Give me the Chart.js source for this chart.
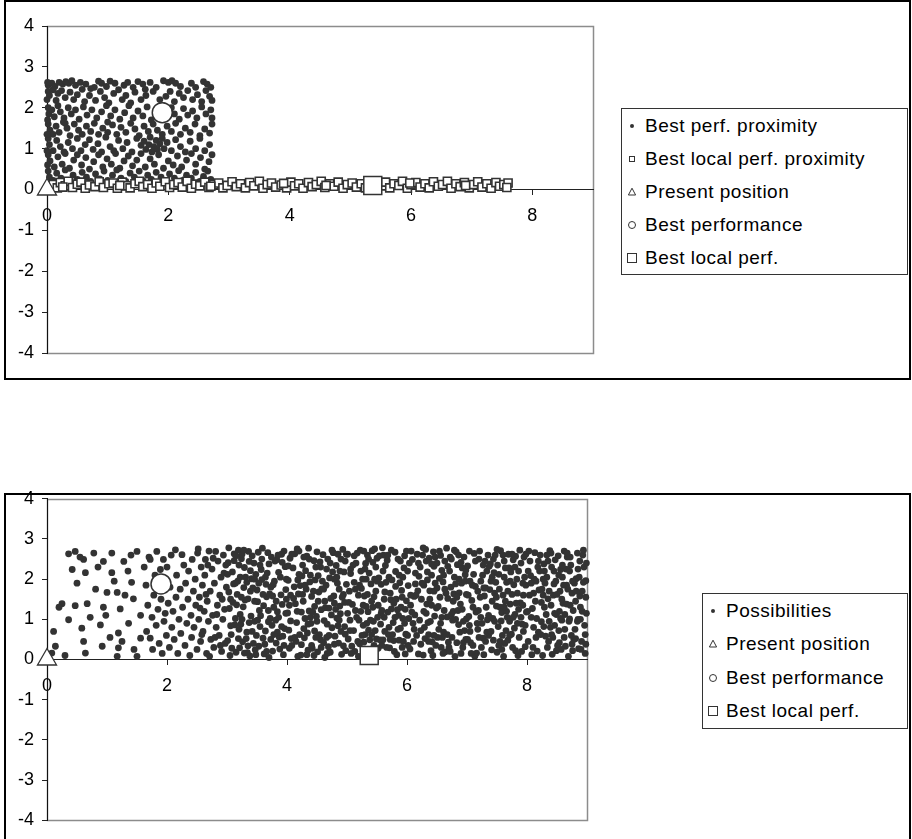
<!DOCTYPE html>
<html>
<head>
<meta charset="utf-8">
<script src="https://cdn.jsdelivr.net/npm/chart.js@4.4.0/dist/chart.umd.min.js"></script>
<style>
  body { margin: 0; width: 912px; height: 839px; overflow: hidden; position: relative; background: #fff;
         font-family: "Liberation Sans", Arial, sans-serif; }
  .frame { position: absolute; border: 2px solid #000; box-sizing: border-box; }
  canvas { position: absolute; left: 0; }
  .legend { position: absolute; border: 1px solid #333; background: #fff; box-sizing: border-box;
            font-size: 19px; letter-spacing: 0.5px; color: #000; }
  .legend .item { display: flex; align-items: center; white-space: nowrap; padding-left: 3px; }
  .legend svg { width: 14px; height: 14px; flex: none; margin-right: 6px; }
</style>
</head>
<body>
<div class="frame" style="left:4px;top:0;width:907px;height:380px"></div>
<div class="frame" style="left:4px;top:493px;width:907px;height:400px"></div>
<canvas id="topChart" width="912" height="380" style="top:0"></canvas>
<canvas id="bottomChart" width="912" height="359" style="top:480px"></canvas>
<div class="legend" id="topLegend" style="left:621px;top:108px;width:287px"></div>
<div class="legend" id="bottomLegend" style="left:702px;top:593px;width:206px"></div>
<script>
// axis ticks
const xTicks = [0, 2, 4, 6, 8];
const yTicks = [-4, -3, -2, -1, 0, 1, 2, 3, 4];

// single markers
const presentPosition = [[0, 0]];
const bestPerformance = [[1.9, 1.88]];
const bestLocalPerf = [[5.37, 0.1]];

// top chart: points near the best performance
const bestPerfProximity = [
  [0.02,2.55],[0.08,2.6],[0.13,2.52],[0.2,2.62],[0.26,2.58],[0.31,2.64],[0.36,2.6],[0.41,2.66],[0.47,2.55],[0.55,2.62],
  [0.64,2.58],[0.78,2.5],[0.85,2.65],[0.9,2.6],[0.98,2.52],[1.04,2.65],[1.12,2.6],[1.27,2.55],[1.33,2.62],[1.42,2.5],
  [1.5,2.64],[1.58,2.58],[1.7,2.62],[1.8,2.5],[1.92,2.66],[2.0,2.62],[2.06,2.66],[2.12,2.6],[2.2,2.52],[2.38,2.6],
  [2.45,2.5],[2.58,2.64],[2.64,2.58],[2.7,2.5],[1.62,2.45],[0.72,2.47],
  [0.02,2.4],[0.04,2.3],[0.1,2.44],[0.18,2.35],[0.24,2.42],[0.3,2.25],[0.38,2.38],[0.44,2.2],[0.5,2.32],[0.58,2.45],
  [0.62,2.15],[0.7,2.3],[0.8,2.18],[0.88,2.4],[0.95,2.25],[1.02,2.12],[1.1,2.35],[1.18,2.44],[1.24,2.2],[1.3,2.3],
  [1.38,2.12],[1.45,2.38],[1.55,2.2],[1.63,2.3],[1.75,2.4],[1.86,2.2],[1.96,2.28],[2.03,2.4],[2.1,2.15],[2.18,2.35],
  [2.25,2.25],[2.32,2.42],[2.4,2.2],[2.48,2.32],[2.55,2.15],[2.62,2.42],[2.68,2.28],[2.72,2.18],[0.15,2.18],[1.92,2.05],
  [0.02,2.0],[0.03,1.85],[0.08,1.95],[0.12,1.78],[0.18,2.05],[0.22,1.9],[0.28,1.75],[0.35,2.0],[0.4,1.85],[0.47,1.95],
  [0.53,1.72],[0.6,2.02],[0.66,1.82],[0.74,1.95],[0.82,1.75],[0.9,1.9],[0.98,2.05],[1.05,1.8],[1.12,1.95],[1.2,1.72],
  [1.28,1.88],[1.35,2.05],[1.42,1.75],[1.5,1.92],[1.58,1.8],[1.65,2.02],[1.72,1.7],[2.1,1.85],[2.18,1.72],[2.25,1.98],
  [2.32,1.82],[2.4,1.92],[2.47,1.75],[2.55,2.02],[2.62,1.85],[2.7,1.95],[2.72,1.75],[0.3,1.62],[1.0,1.65],[2.05,2.0],
  [0.02,1.6],[0.05,1.45],[0.1,1.35],[0.15,1.55],[0.2,1.4],[0.27,1.65],[0.33,1.5],[0.38,1.32],[0.45,1.6],[0.52,1.45],
  [0.58,1.35],[0.65,1.55],[0.72,1.42],[0.78,1.62],[0.85,1.35],[0.92,1.5],[1.0,1.4],[1.08,1.58],[1.15,1.35],[1.22,1.52],
  [1.3,1.4],[1.38,1.62],[1.45,1.48],[1.52,1.32],[1.6,1.55],[1.67,1.42],[1.75,1.6],[1.82,1.45],[1.9,1.35],[1.98,1.55],
  [2.05,1.42],[2.12,1.62],[2.2,1.35],[2.28,1.5],[2.36,1.4],[2.44,1.6],[2.52,1.32],[2.6,1.48],[2.68,1.38],[2.72,1.6],
  [0.02,1.25],[0.04,1.1],[0.1,0.95],[0.16,1.2],[0.22,1.05],[0.28,0.92],[0.35,1.15],[0.42,1.0],[0.5,1.25],[0.56,0.95],
  [0.63,1.1],[0.7,1.22],[0.76,0.98],[0.84,1.12],[0.9,0.92],[0.97,1.28],[1.04,1.05],[1.1,0.95],[1.18,1.2],[1.25,1.0],
  [1.32,1.15],[1.4,0.92],[1.48,1.25],[1.55,1.08],[1.6,1.18],[1.63,0.98],[1.68,1.1],[1.7,1.28],[1.73,0.92],[1.76,1.05],
  [1.8,1.2],[1.82,0.98],[1.86,1.12],[1.9,1.25],[1.93,1.0],[1.98,1.15],[2.05,0.95],[2.12,1.22],[2.2,1.05],[2.28,0.92],
  [2.36,1.18],[2.45,1.0],[2.52,1.25],[2.6,0.95],[2.68,1.1],
  [0.02,0.85],[0.05,0.7],[0.12,0.55],[0.18,0.8],[0.25,0.62],[0.3,0.88],[0.37,0.52],[0.44,0.72],[0.5,0.85],[0.57,0.6],
  [0.64,0.78],[0.7,0.5],[0.77,0.68],[0.85,0.85],[0.92,0.55],[0.99,0.75],[1.06,0.62],[1.13,0.88],[1.2,0.52],[1.27,0.7],
  [1.34,0.82],[1.41,0.58],[1.48,0.72],[1.55,0.88],[1.62,0.55],[1.7,0.75],[1.77,0.62],[1.84,0.85],[1.92,0.52],[2.0,0.7],
  [2.08,0.6],[2.15,0.82],[2.22,0.55],[2.3,0.72],[2.38,0.88],[2.45,0.62],[2.53,0.78],[2.6,0.5],[2.67,0.68],[2.72,0.85],
  [0.02,0.45],[0.04,0.3],[0.1,0.22],[0.16,0.4],[0.23,0.28],[0.3,0.48],[0.36,0.2],[0.43,0.35],[0.5,0.25],[0.58,0.42],
  [0.65,0.3],[0.72,0.2],[0.8,0.38],[0.87,0.26],[0.94,0.45],[1.0,0.22],[1.08,0.35],[1.15,0.48],[1.22,0.28],[1.3,0.2],
  [1.37,0.4],[1.44,0.3],[1.52,0.45],[1.58,0.22],[1.66,0.35],[1.72,0.25],[1.8,0.42],[1.88,0.3],[1.95,0.2],[2.02,0.38],
  [2.1,0.28],[2.17,0.46],[2.24,0.22],[2.3,0.35],[2.38,0.28],[2.45,0.42],[2.52,0.2],[2.58,0.32],[2.65,0.45],[2.7,0.25],
  [0.0,2.2],[0.01,1.7],[0.0,1.35],[0.01,0.6],[0.0,0.95],[0.01,2.62]
];

// top chart: points near the best local performance (along the x axis)
const bestLocalProximity = [
  [0.1,0.12],[0.17,0.04],[0.22,0.17],[0.3,0.09],[0.35,0.2],[0.42,0.05],[0.5,0.13],[0.56,0.18],[0.63,0.03],[0.7,0.11],
  [0.79,0.07],[0.86,0.19],[0.93,0.05],[1.02,0.14],[1.09,0.16],[1.16,0.03],[1.24,0.18],[1.31,0.09],[1.37,0.04],[1.45,0.14],
  [1.52,0.2],[1.58,0.07],[1.66,0.12],[1.73,0.03],[1.8,0.16],[1.86,0.08],[1.95,0.19],[2.02,0.05],[2.09,0.12],[2.16,0.17],
  [2.23,0.06],[2.31,0.2],[2.38,0.03],[2.45,0.13],[2.52,0.09],[2.6,0.18],[2.67,0.05],[2.75,0.12],[2.83,0.16],[2.9,0.04],
  [2.97,0.1],[3.05,0.19],[3.12,0.07],[3.19,0.14],[3.27,0.04],[3.34,0.17],[3.41,0.09],[3.5,0.2],[3.56,0.03],[3.63,0.12],
  [3.7,0.16],[3.77,0.06],[3.86,0.11],[3.95,0.04],[4.02,0.18],[4.08,0.09],[4.15,0.14],[4.22,0.03],[4.31,0.17],[4.37,0.07],
  [4.44,0.12],[4.52,0.2],[4.58,0.05],[4.66,0.14],[4.73,0.08],[4.8,0.18],[4.88,0.03],[4.95,0.12],[5.03,0.16],[5.1,0.06],
  [5.18,0.14],[5.25,0.04],[5.52,0.09],[5.58,0.18],[5.65,0.04],[5.72,0.14],[5.8,0.1],[5.86,0.2],[5.94,0.03],[6.0,0.12],
  [6.08,0.17],[6.15,0.06],[6.23,0.14],[6.3,0.04],[6.37,0.19],[6.45,0.08],[6.52,0.12],[6.6,0.2],[6.66,0.03],[6.74,0.14],
  [6.81,0.07],[6.88,0.17],[6.96,0.04],[7.03,0.12],[7.1,0.19],[7.17,0.06],[7.25,0.14],[7.32,0.03],[7.4,0.17],[7.46,0.08],
  [7.53,0.12],[7.6,0.16],[7.58,0.05],[0.26,0.06],[1.2,0.1],[2.7,0.08],[3.9,0.15],[4.6,0.1],[5.98,0.16],[6.9,0.1]
];

// bottom chart: all possibilities
const possibilities = [
  [0.08,0.16],[0.14,0.33],[0.11,0.7],[0.25,1.39],[0.36,0.99],[0.36,2.63],[0.47,2.69],[0.42,2.24],[0.47,1.34],[0.61,2.49],
  [0.64,2.16],[0.67,1.39],[0.58,0.78],[0.61,0.45],[0.64,0.16],[0.78,2.65],[0.81,1.75],[0.89,0.86],[0.92,0.33],[0.94,2.44],
  [0.94,1.3],[1.0,1.67],[1.08,2.65],[1.08,2.16],[1.17,1.67],[1.19,0.66],[1.19,0.29],[1.17,0.08],[1.22,1.26],[1.28,2.44],
  [1.36,0.9],[1.41,1.92],[1.44,1.51],[1.5,2.69],[1.5,0.08],[1.56,0.53],[1.56,1.1],
  [0.3,0.1],[0.5,1.9],[0.72,1.05],[0.85,2.3],[1.05,0.55],[1.12,1.95],[1.3,1.6],[1.35,2.2],[1.25,0.45],[1.45,0.25],
  [0.2,1.3],[0.55,2.55],[0.98,1.1],[1.4,2.6],
  [1.62,2.3],[1.85,1.25],[1.66,0.7],[2.02,1.4],[1.7,2.55],[1.94,2.49],[1.72,0.53],[2.25,2.61],[1.75,1.05],[1.76,0.25],
  [2.12,0.5],[1.78,1.6],[1.8,2.1],[2.44,1.7],[1.82,0.85],[1.83,2.69],[1.68,1.35],[1.87,0.4],[1.89,2.24],[2.35,1.5],
  [1.92,0.15],[1.72,2.49],[1.95,0.95],[1.97,1.15],[2.3,0.35],[1.99,0.6],[2.0,2.3],[1.65,1.85],[2.04,0.3],[2.05,1.8],
  [2.07,2.6],[2.08,0.8],[2.1,1.2],[2.14,2.73],[2.15,1.55],[2.16,2.1],[2.18,0.15],[2.2,1.0],[2.22,1.75],[2.23,0.65],
  [2.26,1.3],[2.28,2.35],[2.31,1.9],[2.33,0.9],[1.9,1.5],[2.36,2.2],[2.38,0.1],[2.4,1.1],[2.41,0.55],[2.42,2.49],
  [2.45,0.8],[2.47,2.0],[2.48,1.35],[2.5,0.25],[2.51,2.65],[2.53,1.0],[2.54,1.55],[2.56,0.45],[2.57,2.3],[2.59,1.85],
  [2.6,0.7],[2.62,1.2],[2.63,2.1],[2.64,2.49],[2.66,0.15],[2.67,1.45],[2.69,0.95],[2.7,2.7],[2.72,1.7],[2.73,0.5],
  [2.75,2.25],[2.76,1.1],[2.78,0.3],[2.79,1.9],[2.81,2.69],[2.82,0.8],[2.84,1.35],[2.85,2.45],[2.87,0.6],[2.88,1.6],
  [2.9,2.05],[2.91,0.2],[2.93,1.0],[2.94,2.6],[2.96,1.25],[2.97,0.4],[2.99,1.8],[2.98,2.35],
  [2.52,2.75],[2.58,0.62],[2.65,1.62],[2.71,0.08],[2.77,2.52],[2.83,1.12],[2.89,0.35],[2.95,2.15],[2.55,1.28],[2.68,2.35],
  [2.8,0.55],[2.92,1.5],
  [3.02,2.41],[3.07,0.62],[3.11,1.88],[3.15,0.18],[3.19,2.72],[3.22,1.12],[3.26,0.44],[3.31,2.05],[3.35,1.51],[3.38,0.09],
  [3.42,2.58],[3.46,0.95],[3.5,1.73],[3.53,0.33],[3.57,2.24],[3.61,1.34],[3.64,0.71],[3.68,2.66],[3.72,1.02],[3.76,0.21],
  [3.79,1.95],[3.83,2.48],[3.87,0.56],[3.9,1.61],[3.94,0.12],[3.97,2.31],[3.04,1.27],[3.09,2.18],[3.13,0.86],[3.17,1.62],
  [3.21,0.29],[3.24,2.51],[3.28,1.79],[3.33,0.68],[3.36,2.69],[3.4,1.08],[3.44,0.4],[3.48,2.12],[3.51,1.44],[3.55,0.82],
  [3.59,2.77],[3.62,0.14],[3.66,1.56],[3.7,2.38],[3.73,0.5],[3.77,1.86],[3.81,0.98],[3.85,2.6],[3.88,0.26],[3.92,1.37],
  [3.96,0.77],[3.99,2.0],[3.01,0.47],[3.06,1.5],[3.12,2.63],[3.18,1.95],[3.23,0.88],[3.29,2.29],[3.34,0.17],[3.39,1.7],
  [3.45,2.4],[3.49,0.6],[3.54,1.22],[3.58,1.99],[3.63,0.38],[3.67,2.15],[3.71,1.63],[3.75,0.85],[3.8,2.45],[3.84,1.19],
  [3.89,2.05],[3.93,0.58],[3.98,1.74],[3.03,2.78],[3.14,1.02],[3.2,2.35],[3.27,1.31],[3.32,0.52],[3.41,2.01],[3.47,0.24],
  [3.03,1.68],[3.08,0.28],[3.12,2.46],[3.16,1.36],[3.2,0.75],[3.25,2.62],[3.3,1.48],[3.35,0.34],[3.39,2.21],[3.43,1.78],
  [3.48,0.12],[3.52,2.67],[3.56,1.09],[3.6,0.53],[3.65,1.87],[3.69,0.94],[3.74,2.55],[3.78,1.3],[3.82,0.41],[3.86,2.17],
  [3.91,0.82],[3.95,2.7],[3.99,1.5],[3.05,0.1],[3.14,1.9],[3.22,2.05],[3.37,0.92],[3.46,1.45],[3.58,2.5],[3.66,0.2],
  [3.76,1.58],[3.84,0.68],[3.92,2.42],[3.28,2.72],[3.53,1.9],
  [3.01,2.12],[3.06,0.84],[3.1,1.42],[3.15,2.58],[3.19,0.52],[3.24,1.55],[3.29,0.16],[3.33,1.92],[3.37,2.44],[3.42,0.7],
  [3.46,2.0],[3.51,0.98],[3.55,2.35],[3.6,1.62],[3.64,2.05],[3.69,1.22],[3.73,1.8],[3.78,0.62],[3.82,1.45],[3.86,1.05],
  [3.91,2.62],[3.95,0.35],[3.98,1.15],[3.25,1.0],[3.7,0.05],
  [4.01,1.16],[4.05,2.52],[4.08,0.35],[4.12,1.81],[4.16,0.92],[4.2,2.7],[4.23,0.11],[4.27,1.45],[4.31,2.21],[4.34,0.66],
  [4.38,1.93],[4.42,0.28],[4.45,2.46],[4.49,1.07],[4.53,1.68],[4.56,0.49],[4.6,2.61],[4.64,1.29],[4.67,0.15],[4.71,2.03],
  [4.75,0.79],[4.78,1.58],[4.82,2.34],[4.86,0.41],[4.89,1.14],[4.93,2.74],[4.97,0.63],[4.99,1.87],[4.03,0.73],[4.1,2.28],
  [4.14,1.39],[4.18,0.08],[4.25,2.08],[4.29,0.54],[4.33,2.57],[4.37,1.21],[4.4,0.9],[4.47,1.98],[4.51,0.19],[4.55,2.43],
  [4.58,1.76],[4.62,0.97],[4.66,2.25],[4.69,0.32],[4.73,1.52],[4.77,2.66],[4.8,0.58],[4.84,1.9],[4.88,1.33],[4.91,0.13],
  [4.95,2.18],[4.02,1.97],[4.07,0.52],[4.13,2.63],[4.19,1.63],[4.24,0.37],[4.3,1.02],[4.36,2.77],[4.41,1.57],[4.46,0.71],
  [4.52,2.09],[4.57,1.24],[4.63,0.05],[4.68,2.5],[4.74,1.11],[4.79,2.0],[4.85,0.84],[4.9,2.5],[4.96,1.42],[4.06,1.6],
  [4.22,1.84],[4.35,0.23],[4.44,1.7],[4.61,0.42],[4.72,2.4],[4.83,1.03],[4.94,0.34],[4.28,2.55],[4.5,0.95],[4.87,1.75],
  [4.02,2.33],[4.06,0.96],[4.11,1.52],[4.15,0.45],[4.2,2.12],[4.24,1.18],[4.28,0.77],[4.32,1.75],[4.37,2.5],[4.41,0.35],
  [4.46,1.32],[4.5,2.68],[4.54,0.62],[4.59,1.95],[4.63,1.45],[4.67,0.88],[4.72,0.18],[4.76,2.18],[4.81,1.25],[4.85,2.62],
  [4.9,0.7],[4.94,1.62],[4.98,0.22],[4.04,0.28],[4.17,2.75],[4.26,1.62],[4.39,1.05],[4.48,0.55],[4.56,2.3],[4.65,1.85],
  [4.7,0.6],[4.79,1.4],[4.88,2.2],[4.97,2.45],[4.33,0.12],
  [4.04,1.35],[4.08,2.62],[4.13,0.55],[4.17,1.2],[4.21,0.62],[4.26,2.35],[4.3,1.85],[4.35,0.88],[4.39,2.1],[4.43,1.18],
  [4.48,2.3],[4.52,1.45],[4.57,0.3],[4.61,1.75],[4.66,0.55],[4.7,1.28],[4.75,2.72],[4.79,0.38],[4.83,2.05],[4.87,0.98],
  [4.92,1.55],[4.96,0.82],[4.99,2.62],[4.45,0.1],[4.18,1.98],
  [5.02,0.51],[5.06,2.14],[5.09,1.37],[5.13,0.2],[5.17,2.65],[5.2,0.98],[5.24,1.77],[5.28,0.43],[5.31,2.39],[5.35,1.19],
  [5.38,0.49],[5.42,2.71],[5.45,1.56],[5.49,0.51],[5.53,2.03],[5.56,0.88],[5.6,0.49],[5.63,1.68],[5.67,2.47],[5.71,0.29],
  [5.74,1.26],[5.78,0.47],[5.81,2.19],[5.85,0.75],[5.88,1.91],[5.92,0.3],[5.96,2.58],[5.99,1.46],[5.04,1.7],[5.11,0.72],
  [5.15,2.4],[5.19,1.6],[5.26,2.0],[5.3,0.62],[5.34,2.6],[5.4,1.88],[5.44,0.95],[5.48,2.3],[5.52,1.35],[5.55,0.49],
  [5.59,2.78],[5.62,1.05],[5.66,0.3],[5.7,2.05],[5.73,1.49],[5.77,0.92],[5.8,2.67],[5.84,1.24],[5.87,0.48],[5.91,1.72],
  [5.95,2.28],[5.98,0.63],[5.01,2.62],[5.08,0.33],[5.14,1.22],[5.22,2.72],[5.27,1.35],[5.33,0.9],[5.37,2.15],[5.43,1.3],
  [5.47,0.72],[5.5,2.52],[5.57,1.87],[5.64,2.34],[5.69,0.62],[5.75,1.98],[5.82,1.5],[5.89,2.45],[5.93,1.02],[5.97,0.14],
  [5.05,0.98],[5.12,1.92],[5.21,0.39],[5.29,1.58],[5.36,0.73],[5.46,2.0],[5.58,0.35],[5.68,1.18],[5.79,0.2],[5.9,1.3],
  [5.03,1.42],[5.07,0.15],[5.12,2.58],[5.16,1.05],[5.21,1.85],[5.25,0.6],[5.3,2.25],[5.34,1.62],[5.39,0.98],[5.43,2.42],
  [5.48,1.7],[5.52,0.28],[5.57,1.15],[5.61,2.6],[5.65,1.92],[5.7,0.8],[5.74,2.72],[5.78,1.4],[5.83,0.12],[5.87,2.1],
  [5.92,1.55],[5.96,0.9],[5.99,2.7],[5.06,2.25],[5.18,0.45],[5.23,1.2],[5.32,2.0],[5.41,0.62],[5.51,1.05],[5.6,2.2],
  [5.72,0.5],[5.81,1.82],[5.94,0.45],[5.46,2.75],[5.86,1.1],
  [5.01,1.15],[5.05,0.72],[5.1,2.35],[5.14,1.75],[5.19,0.08],[5.23,2.2],[5.27,0.85],[5.32,1.32],[5.36,2.5],[5.41,1.45],
  [5.45,0.35],[5.5,1.95],[5.54,2.58],[5.58,1.22],[5.63,0.7],[5.68,2.6],[5.72,1.65],[5.76,0.62],[5.8,1.05],[5.85,2.5],
  [5.89,0.78],[5.93,2.05],[5.97,1.25],[5.62,1.5],[5.28,2.7],
  [6.02,1.84],[6.05,0.26],[6.09,2.49],[6.13,1.11],[6.16,0.6],[6.2,2.07],[6.24,1.5],[6.27,0.11],[6.31,2.74],[6.35,0.92],
  [6.38,1.71],[6.42,0.44],[6.45,2.32],[6.49,1.28],[6.53,0.75],[6.56,2.59],[6.6,1.93],[6.64,0.19],[6.67,1.06],[6.71,2.2],
  [6.75,0.55],[6.78,1.63],[6.82,2.68],[6.86,0.87],[6.89,1.38],[6.93,0.3],[6.97,2.11],[6.99,1.01],[6.03,1.02],[6.07,2.7],
  [6.11,0.45],[6.18,1.71],[6.22,2.3],[6.29,0.8],[6.33,1.38],[6.37,2.52],[6.4,0.22],[6.47,1.9],[6.51,0.55],[6.55,1.55],
  [6.58,2.22],[6.62,1.22],[6.66,2.77],[6.69,0.43],[6.73,1.8],[6.77,1.2],[6.8,0.08],[6.84,2.36],[6.88,0.68],[6.91,1.9],
  [6.95,2.55],[6.98,0.5],[6.06,1.35],[6.14,2.15],[6.19,0.14],[6.26,2.6],[6.32,1.15],[6.39,0.95],[6.44,2.68],[6.48,0.35],
  [6.54,2.02],[6.61,0.68],[6.68,1.52],[6.74,2.5],[6.81,1.0],[6.87,1.66],[6.94,0.95],[6.01,0.6],[6.12,1.57],[6.23,0.38],
  [6.34,1.98],[6.46,1.08],[6.57,0.3],[6.63,2.45],[6.72,0.2],[6.83,1.55],[6.92,2.28],[6.28,1.85],[6.5,2.4],[6.79,2.05],
  [6.04,2.4],[6.08,1.18],[6.12,0.75],[6.17,2.62],[6.21,0.98],[6.25,1.9],[6.3,0.52],[6.34,2.18],[6.38,1.5],[6.43,0.1],
  [6.47,2.55],[6.52,1.32],[6.56,0.9],[6.61,2.1],[6.65,1.65],[6.7,0.3],[6.74,1.12],[6.79,2.72],[6.83,0.42],[6.87,2.0],
  [6.92,1.25],[6.96,0.72],[6.99,1.62],[6.02,0.35],[6.15,1.6],[6.27,2.78],[6.36,0.62],[6.45,1.7],[6.59,0.55],[6.68,2.32],
  [6.77,1.45],[6.86,2.6],[6.97,1.95],[6.41,2.38],[6.9,0.15],
  [6.01,2.2],[6.06,1.6],[6.1,0.9],[6.14,1.88],[6.19,2.4],[6.23,0.72],[6.28,1.2],[6.32,2.45],[6.36,0.45],[6.41,1.35],
  [6.45,0.6],[6.5,1.78],[6.54,2.7],[6.58,1.05],[6.63,1.75],[6.67,0.62],[6.72,2.55],[6.76,0.98],[6.81,1.88],[6.85,1.22],
  [6.9,2.42],[6.94,0.42],[6.98,2.22],[6.41,2.1],[6.6,0.15],
  [7.01,2.33],[7.05,0.7],[7.08,1.47],[7.12,2.64],[7.16,0.16],[7.19,1.22],[7.23,1.95],[7.27,0.53],[7.3,2.45],[7.34,0.99],
  [7.38,1.74],[7.41,0.24],[7.45,2.16],[7.49,1.33],[7.52,0.82],[7.56,2.71],[7.6,1.6],[7.63,0.4],[7.67,1.05],[7.7,2.28],
  [7.74,0.63],[7.78,1.86],[7.81,2.57],[7.85,0.1],[7.89,1.41],[7.92,0.88],[7.96,2.05],[7.99,1.18],[7.03,1.07],[7.1,0.35],
  [7.14,1.82],[7.21,2.7],[7.25,0.9],[7.29,1.58],[7.33,2.2],[7.36,0.6],[7.43,1.02],[7.47,2.6],[7.5,0.18],[7.54,1.75],
  [7.58,1.17],[7.62,2.05],[7.65,0.72],[7.69,2.62],[7.72,1.38],[7.76,0.3],[7.8,1.12],[7.83,2.0],[7.87,0.55],[7.9,2.4],
  [7.94,1.6],[7.97,0.32],[7.04,2.7],[7.09,1.85],[7.17,0.9],[7.22,1.55],[7.28,0.12],[7.35,2.6],[7.4,1.95],[7.44,0.48],
  [7.51,2.35],[7.57,0.96],[7.61,0.08],[7.68,1.7],[7.73,2.18],[7.79,0.78],[7.84,1.65],[7.91,0.2],[7.95,2.55],[7.07,0.15],
  [7.2,0.55],[7.32,1.3],[7.46,1.65],[7.55,0.45],[7.64,1.45],[7.77,2.48],[7.86,1.25],[7.98,1.85],[7.39,2.38],[7.71,0.95],
  [7.02,1.6],[7.06,0.42],[7.11,2.12],[7.15,1.18],[7.2,2.5],[7.24,0.3],[7.28,1.78],[7.33,0.68],[7.37,2.32],[7.42,1.45],
  [7.46,0.95],[7.5,2.74],[7.55,1.3],[7.59,0.6],[7.64,2.28],[7.68,0.48],[7.72,1.95],[7.77,1.05],[7.81,0.22],[7.86,2.2],
  [7.9,1.05],[7.94,0.7],[7.98,2.62],[7.04,0.85],[7.13,0.08],[7.26,2.1],[7.31,0.45],[7.48,1.92],[7.53,0.35],[7.66,1.2],
  [7.75,2.62],[7.82,1.4],[7.93,1.9],[7.18,1.7],[7.62,2.45],
  [7.01,0.5],[7.05,1.95],[7.1,1.3],[7.14,2.45],[7.18,0.75],[7.23,1.05],[7.27,2.35],[7.31,1.78],[7.36,1.1],[7.4,0.7],
  [7.44,2.5],[7.49,1.55],[7.53,2.12],[7.58,0.25],[7.62,1.3],[7.66,1.92],[7.71,0.6],[7.75,1.62],[7.8,2.3],[7.84,0.9],
  [7.88,2.72],[7.93,1.35],[7.97,0.85],[7.42,2.05],[7.6,2.6],
  [8.02,0.45],[8.06,2.09],[8.09,1.27],[8.13,2.66],[8.17,0.21],[8.2,1.73],[8.24,0.94],[8.28,2.38],[8.31,0.58],[8.35,1.51],
  [8.38,2.71],[8.42,0.13],[8.45,1.88],[8.49,1.12],[8.53,0.72],[8.56,2.24],[8.6,1.4],[8.64,0.33],[8.67,2.55],[8.71,1.01],
  [8.75,1.65],[8.78,0.5],[8.82,2.01],[8.86,0.27],[8.89,1.3],[8.93,2.6],[8.96,0.85],[8.98,1.96],[8.04,1.6],[8.11,0.8],
  [8.15,1.95],[8.22,2.6],[8.26,0.1],[8.33,2.05],[8.37,0.95],[8.4,1.35],[8.47,2.48],[8.51,0.35],[8.55,1.7],[8.58,0.98],
  [8.62,2.7],[8.66,1.85],[8.69,0.08],[8.73,2.35],[8.77,1.22],[8.8,0.75],[8.84,2.65],[8.88,1.58],[8.91,0.45],[8.95,2.3],
  [8.99,1.15],[8.03,2.7],[8.08,0.12],[8.16,1.02],[8.21,2.2],[8.29,1.3],[8.34,0.3],[8.41,2.3],[8.46,0.85],[8.52,2.58],
  [8.57,0.25],[8.63,1.12],[8.68,1.75],[8.74,0.6],[8.81,1.45],[8.87,2.05],[8.92,1.7],[8.97,0.15],[8.07,1.9],[8.19,0.68],
  [8.3,1.9],[8.43,0.55],[8.54,1.2],[8.65,2.25],[8.76,0.22],[8.85,1.0],[8.94,2.72],[8.27,1.6],[8.48,1.95],[8.72,2.55],
  [8.01,1.2],[8.05,2.45],[8.1,0.3],[8.14,1.45],[8.18,2.3],[8.23,0.62],[8.27,2.0],[8.32,1.12],[8.36,0.45],[8.4,2.65],
  [8.44,1.6],[8.49,0.22],[8.53,2.1],[8.58,1.5],[8.62,0.55],[8.66,1.38],[8.71,2.2],[8.75,0.38],[8.79,1.9],[8.84,0.95],
  [8.88,2.45],[8.92,1.2],[8.97,0.62],[8.99,2.4],[8.12,2.0],[8.25,1.75],[8.39,0.8],[8.46,1.15],[8.59,2.35],[8.7,0.95],
  [8.82,1.7],[8.9,0.25],[8.98,1.55],[8.35,2.45],[8.61,1.85],
  [8.02,2.2],[8.07,1.05],[8.11,1.65],[8.15,0.55],[8.19,2.45],[8.24,1.42],[8.28,0.82],[8.33,2.6],[8.37,1.7],[8.41,0.62],
  [8.45,2.2],[8.5,1.62],[8.54,0.42],[8.59,2.05],[8.63,0.75],[8.67,2.65],[8.72,1.35],[8.76,1.95],[8.81,0.52],[8.85,2.25],
  [8.89,1.0],[8.94,1.92],[8.98,0.38],[8.56,1.02],[8.29,2.2]
];

const topLabels = ['Best perf. proximity', 'Best local perf. proximity', 'Present position', 'Best performance', 'Best local perf.'];
const bottomLabels = ['Possibilities', 'Present position', 'Best performance', 'Best local perf.'];

const ink = '#333333';
const fontFamily = '"Liberation Sans", Arial, sans-serif';

const toXY = pts => pts.map(p => ({ x: p[0], y: p[1] }));

// marker styles shared by both charts
const styles = {
  'Best perf. proximity':       { pointStyle: 'circle', pointRadius: 3.4, backgroundColor: ink, borderColor: ink, borderWidth: 0, order: 3 },
  'Possibilities':              { pointStyle: 'circle', pointRadius: 3.4, backgroundColor: ink, borderColor: ink, borderWidth: 0, order: 3 },
  'Best local perf. proximity': { pointStyle: 'rect', pointRadius: 5.7, backgroundColor: '#fff', borderColor: ink, borderWidth: 1.6, order: 2 },
  'Present position':           { pointStyle: 'triangle', pointRadius: 11, backgroundColor: '#fff', borderColor: ink, borderWidth: 1.3, order: 1 },
  'Best performance':           { pointStyle: 'circle', pointRadius: 10, backgroundColor: '#fff', borderColor: ink, borderWidth: 1.5, order: 1 },
  'Best local perf.':           { pointStyle: 'rect', pointRadius: 12.7, backgroundColor: '#fff', borderColor: ink, borderWidth: 1.5, order: 0 }
};

const legendIcons = {
  'Best perf. proximity': '<circle cx="7" cy="7" r="2" fill="#333"/>',
  'Possibilities': '<circle cx="7" cy="7" r="2" fill="#333"/>',
  'Best local perf. proximity': '<rect x="4.5" y="4.5" width="5" height="5" fill="#fff" stroke="#333"/>',
  'Present position': '<polygon points="7,3.2 10.6,10 3.4,10" fill="#fff" stroke="#333"/>',
  'Best performance': '<circle cx="7" cy="7" r="3.5" fill="#fff" stroke="#333"/>',
  'Best local perf.': '<rect x="2.5" y="2.5" width="9" height="9" fill="#fff" stroke="#333"/>'
};

// grey frame round the plot area, axes are drawn over it
const plotFrame = {
  id: 'plotFrame',
  beforeDraw(chart) {
    const { ctx, chartArea: a } = chart;
    ctx.save();
    ctx.strokeStyle = '#8c8c8c';
    ctx.lineWidth = 1.5;
    ctx.strokeRect(Math.round(a.left) + 0.5, Math.round(a.top) + 0.5, Math.round(a.width), Math.round(a.height));
    ctx.restore();
  }
};

function makeChart(canvasId, labels, seriesList, padding) {
  const datasets = labels.map((label, i) => Object.assign({
    label: label,
    data: toXY(seriesList[i]),
    showLine: false,
    clip: false
  }, styles[label]));

  return new Chart(document.getElementById(canvasId), {
    type: 'scatter',
    data: { datasets: datasets },
    options: {
      responsive: false,
      animation: false,
      events: [],
      layout: { padding: padding },
      plugins: { legend: { display: false }, tooltip: { enabled: false } },
      scales: {
        x: {
          type: 'linear', min: 0, max: 9,
          position: { y: 0 },
          afterBuildTicks: s => { s.ticks = xTicks.map(v => ({ value: v })); },
          grid: { drawOnChartArea: false, drawTicks: true, tickLength: 5, color: '#222', lineWidth: 1 },
          border: { display: true, color: '#222', width: 1 },
          ticks: { color: '#000', font: { family: fontFamily, size: 18 }, padding: 11, maxRotation: 0, autoSkip: false,
                   callback: v => String(v) }
        },
        y: {
          type: 'linear', min: -4, max: 4,
          position: 'left',
          afterFit: s => { s.width = 47; },
          afterBuildTicks: s => { s.ticks = yTicks.map(v => ({ value: v })); },
          grid: { drawOnChartArea: false, drawTicks: true, tickLength: 5, color: '#222', lineWidth: 1 },
          border: { display: true, color: '#111', width: 1 },
          ticks: { color: '#000', font: { family: fontFamily, size: 18 }, padding: 8, autoSkip: false,
                   callback: v => String(v) }
        }
      }
    },
    plugins: [plotFrame]
  });
}

function makeLegend(id, labels, rowHeight) {
  const box = document.getElementById(id);
  labels.forEach(label => {
    const row = document.createElement('div');
    row.className = 'item';
    row.style.height = rowHeight + 'px';
    row.innerHTML = '<svg viewBox="0 0 14 14">' + legendIcons[label] + '</svg><span>' + label + '</span>';
    box.appendChild(row);
  });
}

makeChart('topChart', topLabels,
  [bestPerfProximity, bestLocalProximity, presentPosition, bestPerformance, bestLocalPerf],
  { left: 0, right: 319, top: 26, bottom: 27 });

makeChart('bottomChart', bottomLabels,
  [possibilities, presentPosition, bestPerformance, bestLocalPerf],
  { left: 0, right: 325, top: 18, bottom: 14 });

makeLegend('topLegend', topLabels, 33);
makeLegend('bottomLegend', bottomLabels, 33.5);
</script>
</body>
</html>
